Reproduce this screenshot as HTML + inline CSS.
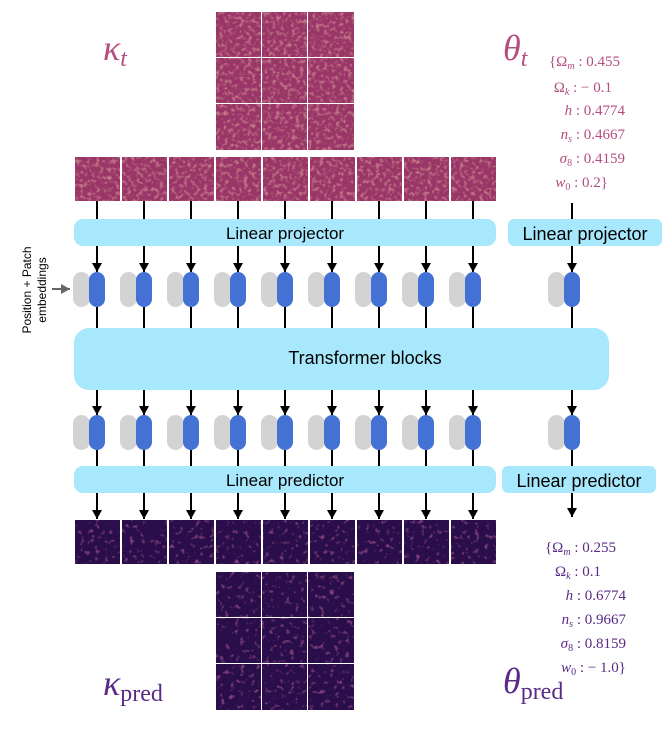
<!DOCTYPE html>
<html><head><meta charset="utf-8"><style>
html,body{margin:0;padding:0;background:#fff;}
svg{display:block;}
.m{font-family:"Liberation Serif",serif;font-style:italic;}
.s{font-family:"Liberation Sans",sans-serif;}
</style></head><body>
<svg width="670" height="739" viewBox="0 0 670 739" xmlns="http://www.w3.org/2000/svg">
<defs>
<filter id="nt" x="0" y="0" width="100%" height="100%">
<feTurbulence type="fractalNoise" baseFrequency="0.25" numOctaves="2" seed="3" result="n"/>
<feColorMatrix in="n" type="matrix" values="0 0 0 0 0.95  0 0 0 0 0.45  0 0 0 0 0.45  0 0 0 1.2 -0.6" result="c"/>
<feComposite in="c" in2="SourceGraphic" operator="atop"/>
</filter>
<filter id="nb" x="0" y="0" width="100%" height="100%">
<feTurbulence type="fractalNoise" baseFrequency="0.2" numOctaves="2" seed="7" result="n"/>
<feColorMatrix in="n" type="matrix" values="0 0 0 0 0.6  0 0 0 0 0.15  0 0 0 0 0.45  0 0 0 1.4 -0.85" result="c"/>
<feComposite in="c" in2="SourceGraphic" operator="atop"/>
</filter>
<marker id="ah" markerWidth="10" markerHeight="10" refX="9" refY="5" orient="auto" markerUnits="userSpaceOnUse">
<path d="M0,0 L9,5 L0,10 Z" fill="#000"/></marker>
<marker id="ag" markerWidth="10" markerHeight="10" refX="9" refY="5" orient="auto" markerUnits="userSpaceOnUse">
<path d="M0,0 L9,5 L0,10 Z" fill="#666"/></marker>
</defs>

<g fill="#9a3468" filter="url(#nt)">
<rect x="216" y="12" width="45" height="45"/><rect x="262" y="12" width="45" height="45"/><rect x="308" y="12" width="46" height="45"/>
<rect x="216" y="58" width="45" height="45"/><rect x="262" y="58" width="45" height="45"/><rect x="308" y="58" width="46" height="45"/>
<rect x="216" y="104" width="45" height="46"/><rect x="262" y="104" width="45" height="46"/><rect x="308" y="104" width="46" height="46"/>
</g>
<g fill="#9a3468" filter="url(#nt)">
<rect x="75" y="157" width="45" height="44"/><rect x="122" y="157" width="45" height="44"/><rect x="169" y="157" width="45" height="44"/>
<rect x="216" y="157" width="45" height="44"/><rect x="263" y="157" width="45" height="44"/><rect x="310" y="157" width="45" height="44"/>
<rect x="357" y="157" width="45" height="44"/><rect x="404" y="157" width="45" height="44"/><rect x="451" y="157" width="45" height="44"/>
</g>
<g fill="#2a0c4c" filter="url(#nb)">
<rect x="75" y="520" width="45" height="44"/><rect x="122" y="520" width="45" height="44"/><rect x="169" y="520" width="45" height="44"/>
<rect x="216" y="520" width="45" height="44"/><rect x="263" y="520" width="45" height="44"/><rect x="310" y="520" width="45" height="44"/>
<rect x="357" y="520" width="45" height="44"/><rect x="404" y="520" width="45" height="44"/><rect x="451" y="520" width="45" height="44"/>
</g>
<g fill="#2a0c4c" filter="url(#nb)">
<rect x="216" y="572" width="45" height="45"/><rect x="262" y="572" width="45" height="45"/><rect x="308" y="572" width="46" height="45"/>
<rect x="216" y="618" width="45" height="45"/><rect x="262" y="618" width="45" height="45"/><rect x="308" y="618" width="46" height="45"/>
<rect x="216" y="664" width="45" height="46"/><rect x="262" y="664" width="45" height="46"/><rect x="308" y="664" width="46" height="46"/>
</g>

<rect x="74" y="219" width="422" height="27" rx="9" fill="#a8e8fc"/>
<rect x="508" y="219" width="154" height="27" rx="6" fill="#a8e8fc"/>
<rect x="74" y="328" width="535" height="62" rx="15" fill="#a8e8fc"/>
<rect x="74" y="466" width="422" height="27" rx="9" fill="#a8e8fc"/>
<rect x="502" y="466" width="154" height="27" rx="6" fill="#a8e8fc"/>
<text x="285" y="239" text-anchor="middle" class="s" font-size="17">Linear projector</text>
<text x="585" y="240" text-anchor="middle" class="s" font-size="18">Linear projector</text>
<text x="365" y="364" text-anchor="middle" class="s" font-size="18">Transformer blocks</text>
<text x="285" y="486" text-anchor="middle" class="s" font-size="17">Linear predictor</text>
<text x="579" y="487" text-anchor="middle" class="s" font-size="18">Linear predictor</text>

<g id="col" stroke="#000" stroke-width="2">
<line x1="97" y1="201" x2="97" y2="219"/>
<line x1="97" y1="246" x2="97" y2="272" marker-end="url(#ah)"/>
<line x1="97" y1="307" x2="97" y2="328"/>
<line x1="97" y1="390" x2="97" y2="415" marker-end="url(#ah)"/>
<line x1="97" y1="450" x2="97" y2="466"/>
<line x1="97" y1="493" x2="97" y2="519" marker-end="url(#ah)"/>
</g>
<g id="tok">
<rect x="73" y="272" width="17" height="35" rx="8.5" fill="#d3d3d3"/>
<rect x="89" y="272" width="16" height="35" rx="8" fill="#4472d4"/>
<rect x="73" y="415" width="17" height="35" rx="8.5" fill="#d3d3d3"/>
<rect x="89" y="415" width="16" height="35" rx="8" fill="#4472d4"/>
</g>
<use href="#col" transform="translate(47,0)"/><use href="#tok" transform="translate(47,0)"/>
<use href="#col" transform="translate(94,0)"/><use href="#tok" transform="translate(94,0)"/>
<use href="#col" transform="translate(141,0)"/><use href="#tok" transform="translate(141,0)"/>
<use href="#col" transform="translate(188,0)"/><use href="#tok" transform="translate(188,0)"/>
<use href="#col" transform="translate(235,0)"/><use href="#tok" transform="translate(235,0)"/>
<use href="#col" transform="translate(282,0)"/><use href="#tok" transform="translate(282,0)"/>
<use href="#col" transform="translate(329,0)"/><use href="#tok" transform="translate(329,0)"/>
<use href="#col" transform="translate(376,0)"/><use href="#tok" transform="translate(376,0)"/>
<use href="#tok" transform="translate(475,0)"/>
<g stroke="#000" stroke-width="2">
<line x1="572" y1="203" x2="572" y2="219"/>
<line x1="572" y1="246" x2="572" y2="272" marker-end="url(#ah)"/>
<line x1="572" y1="307" x2="572" y2="328"/>
<line x1="572" y1="390" x2="572" y2="415" marker-end="url(#ah)"/>
<line x1="572" y1="450" x2="572" y2="466"/>
<line x1="572" y1="493" x2="572" y2="517" marker-end="url(#ah)"/>
</g>

<line x1="52" y1="289" x2="70" y2="289" stroke="#666" stroke-width="2" marker-end="url(#ag)"/>
<text transform="translate(31,290) rotate(-90)" text-anchor="middle" class="s" font-size="12">Position + Patch</text>
<text transform="translate(46,290) rotate(-90)" text-anchor="middle" class="s" font-size="12">embeddings</text>

<g fill="#b54d80">
<text x="103" y="60" class="m" font-size="36">κ<tspan font-size="24" dy="6">t</tspan></text>
<text x="503" y="60" class="m" font-size="36">θ<tspan font-size="24" dy="6">t</tspan></text>
<g class="m" font-size="15" text-anchor="end">
<text x="620" y="66"><tspan font-style="normal">{Ω</tspan><tspan font-size="10" dy="3">m</tspan><tspan dy="-3" font-style="normal"> : 0.455</tspan></text>
<text x="612" y="92"><tspan font-style="normal">Ω</tspan><tspan font-size="10" dy="3">k</tspan><tspan dy="-3" font-style="normal"> :  − 0.1</tspan></text>
<text x="625" y="115">h<tspan font-style="normal"> : 0.4774</tspan></text>
<text x="625" y="139">n<tspan font-size="10" dy="3">s</tspan><tspan dy="-3" font-style="normal"> : 0.4667</tspan></text>
<text x="625" y="163"><tspan>σ</tspan><tspan font-size="10" dy="3" font-style="normal">8</tspan><tspan dy="-3" font-style="normal"> : 0.4159</tspan></text>
<text x="608" y="187">w<tspan font-size="10" dy="3" font-style="normal">0</tspan><tspan dy="-3" font-style="normal"> : 0.2}</tspan></text>
</g>
</g>
<g fill="#5a2a86">
<text x="103" y="695" class="m" font-size="36">κ<tspan font-size="24" dy="6" font-style="normal">pred</tspan></text>
<text x="503" y="693" class="m" font-size="36">θ<tspan font-size="24" dy="6" font-style="normal">pred</tspan></text>
<g class="m" font-size="15" text-anchor="end">
<text x="616" y="552"><tspan font-style="normal">{Ω</tspan><tspan font-size="10" dy="3">m</tspan><tspan dy="-3" font-style="normal"> : 0.255</tspan></text>
<text x="601" y="576"><tspan font-style="normal">Ω</tspan><tspan font-size="10" dy="3">k</tspan><tspan dy="-3" font-style="normal"> : 0.1</tspan></text>
<text x="626" y="600">h<tspan font-style="normal"> : 0.6774</tspan></text>
<text x="626" y="624">n<tspan font-size="10" dy="3">s</tspan><tspan dy="-3" font-style="normal"> : 0.9667</tspan></text>
<text x="626" y="648">σ<tspan font-size="10" dy="3" font-style="normal">8</tspan><tspan dy="-3" font-style="normal"> : 0.8159</tspan></text>
<text x="626" y="672">w<tspan font-size="10" dy="3" font-style="normal">0</tspan><tspan dy="-3" font-style="normal"> :  − 1.0}</tspan></text>
</g>
</g>
</svg>
</body></html>
